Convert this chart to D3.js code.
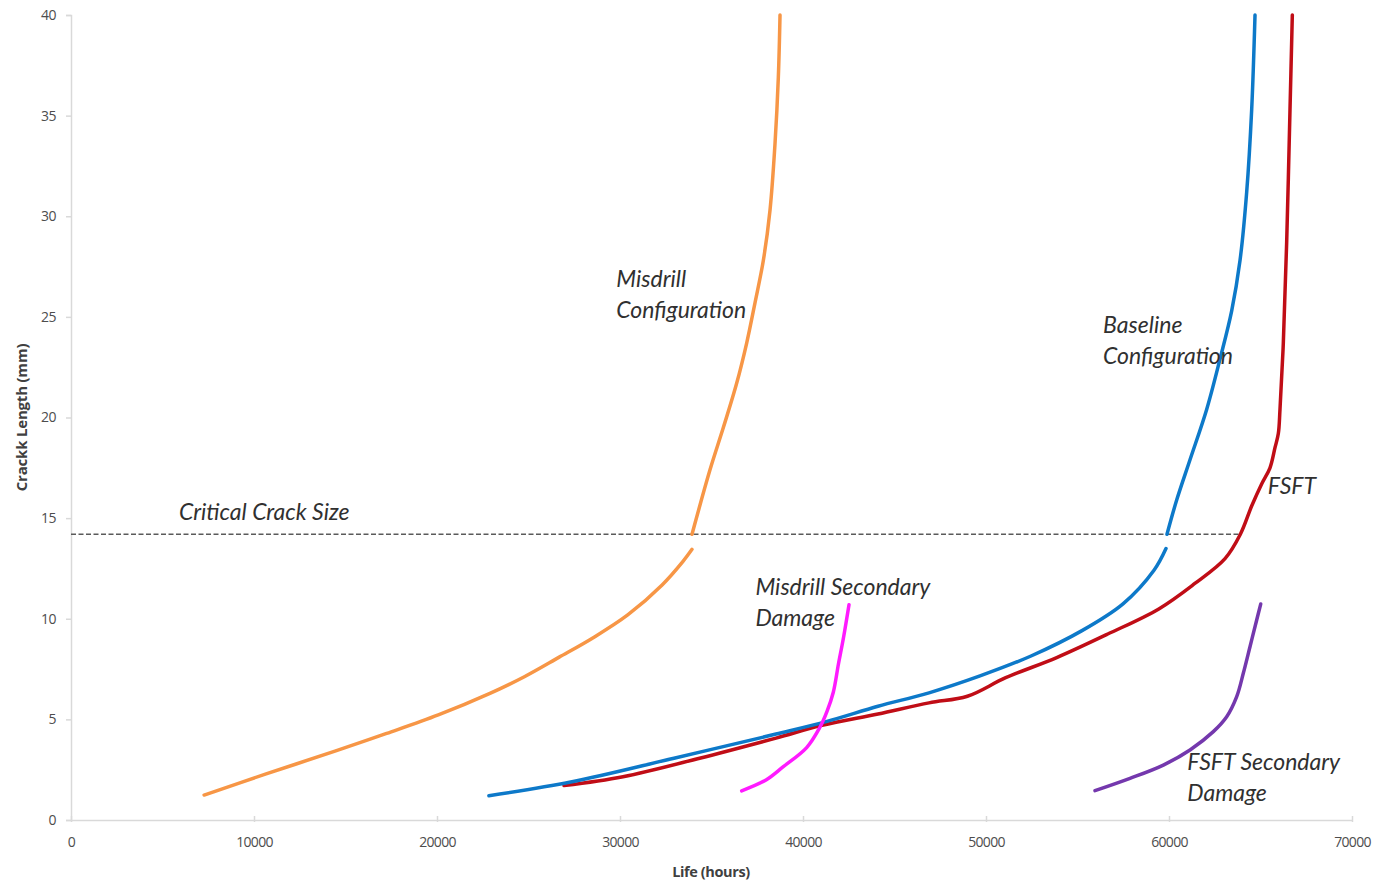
<!DOCTYPE html>
<html>
<head>
<meta charset="utf-8">
<script src="https://cdn.jsdelivr.net/npm/d3@7"></script>
<style>
  html, body { margin: 0; padding: 0; background: #ffffff; }
  svg { display: block; }
  .tick text { font-family: "Open Sans", "Lato", sans-serif; fill: #4d4d4d; }
</style>
</head>
<body>
<svg id="chart" width="1379" height="883"></svg>
<script>
// Crack growth curves: life (hours) vs crack length (mm)

// Misdrill configuration, growth up to critical size
const misdrillLife  = [7274, 10662, 14426, 17247, 20071, 22892, 24775, 26656, 28536, 30421, 32301, 33432, 33935];
const misdrillCrack = [1.24, 2.29, 3.42, 4.30, 5.22, 6.29, 7.12, 8.08, 9.06, 10.19, 11.68, 12.84, 13.45];
// Misdrill configuration, beyond critical size
const misdrillPostLife  = [33935, 34918, 35647, 36375, 36922, 37377, 37832, 38197, 38470, 38652, 38744];
const misdrillPostCrack = [14.2, 17.4, 19.5, 21.7, 23.7, 25.7, 27.8, 30.3, 33.6, 36.9, 40];

// Baseline configuration
const baselineLife  = [22836, 27377, 32951, 38526, 41312, 44099, 46886, 49673, 52460, 55246, 57487, 59180, 59836];
const baselineCrack = [1.21, 1.90, 3.07, 4.27, 4.90, 5.65, 6.32, 7.16, 8.15, 9.41, 10.74, 12.41, 13.49];
const baselinePostLife  = [59890, 60420, 61148, 62058, 62786, 63425, 63880, 64245, 64518, 64700];
const baselinePostCrack = [14.2, 15.9, 17.9, 20.4, 22.9, 25.3, 27.8, 31.2, 35.3, 40];

// FSFT
const fsftLife  = [26940, 30164, 34351, 38526, 41038, 44099, 46886, 48984, 51077, 53864, 56655, 59443, 61393, 63062, 63900, 64517, 65063, 65519, 65792, 65974, 66065, 66247, 66430, 66612, 66739];
const fsftCrack = [1.71, 2.15, 3.07, 4.07, 4.70, 5.27, 5.82, 6.15, 7.07, 8.07, 9.24, 10.49, 11.74, 12.99, 14.2, 15.6, 16.7, 17.5, 18.5, 19.2, 20.4, 23.7, 28.7, 35.3, 40];

// Misdrill secondary damage
const misdrillSecLife  = [36650, 37979, 38924, 40200, 40902, 41312, 41656, 41935, 42214, 42514];
const misdrillSecCrack = [1.45, 1.99, 2.65, 3.60, 4.57, 5.40, 6.35, 7.74, 9.07, 10.70];

// FSFT secondary damage
const fsftSecLife  = [55956, 57869, 59690, 61148, 62422, 63152, 63699, 64060, 64426, 64792, 65011];
const fsftSecCrack = [1.46, 2.07, 2.73, 3.48, 4.39, 5.13, 6.13, 7.29, 8.61, 9.94, 10.73];

// Critical crack size reference line
const criticalSize = 14.2;
const criticalLifeRange = [0, 63900];

const xTicks = [0, 10000, 20000, 30000, 40000, 50000, 60000, 70000];
const yTicks = [0, 5, 10, 15, 20, 25, 30, 35, 40];

const annotations = [
  { lines: ["Misdrill", "Configuration"], life: 29800, crack: 26.5 },
  { lines: ["Baseline", "Configuration"], life: 56400, crack: 24.2 },
  { lines: ["FSFT"], life: 65400, crack: 16.2 },
  { lines: ["Critical Crack Size"], life: 5900, crack: 14.9 },
  { lines: ["Misdrill Secondary", "Damage"], life: 37400, crack: 11.2 },
  { lines: ["FSFT Secondary", "Damage"], life: 61000, crack: 2.5 }
];

const svg = d3.select("#chart");
const margin = { left: 71, right: 27, top: 15, bottom: 63 };
const W = 1379, H = 883;

const x = d3.scaleLinear().domain([0, 70000]).range([margin.left, W - margin.right]);
const y = d3.scaleLinear().domain([0, 40]).range([H - margin.bottom, margin.top]);

// Axes
const axisColor = "#d9d9d9";
const yAxis = svg.append("g")
  .attr("transform", `translate(${margin.left},0)`)
  .call(d3.axisLeft(y).tickValues(yTicks).tickSize(5).tickPadding(10).tickFormat(d3.format("d")));
yAxis.select(".domain").attr("stroke", axisColor).attr("stroke-width", 1.5);
yAxis.selectAll(".tick line").attr("stroke", axisColor).attr("stroke-width", 1.5);
yAxis.selectAll(".tick text").attr("font-size", 14).attr("letter-spacing", -0.5);

const xAxis = svg.append("g")
  .attr("transform", `translate(0,${H - margin.bottom})`)
  .call(d3.axisBottom(x).tickValues(xTicks).tickSizeOuter(0).tickSize(0).tickPadding(17).tickFormat(d3.format("d")));
xAxis.select(".domain").attr("stroke", axisColor).attr("stroke-width", 1.5);
xAxis.selectAll(".tick line").attr("y1", -4).attr("y2", 2).attr("stroke", axisColor).attr("stroke-width", 1.5);
xAxis.selectAll(".tick text").attr("font-size", 14).attr("letter-spacing", -0.7);

// Axis titles
svg.append("text")
  .attr("x", 711)
  .attr("y", 877)
  .attr("text-anchor", "middle")
  .attr("font-family", "Open Sans, Lato, sans-serif")
  .attr("font-weight", "bold")
  .attr("font-size", 14.5)
  .attr("letter-spacing", -0.4)
  .attr("fill", "#404040")
  .text("Life (hours)");

svg.append("text")
  .attr("transform", `translate(27,${y(20)}) rotate(-90)`)
  .attr("text-anchor", "middle")
  .attr("font-family", "Open Sans, Lato, sans-serif")
  .attr("font-weight", "bold")
  .attr("font-size", 15)
  .attr("letter-spacing", -0.2)
  .attr("fill", "#404040")
  .text("Crackk Length (mm)");

// Critical crack size line
svg.append("line")
  .attr("x1", x(criticalLifeRange[0])).attr("x2", x(criticalLifeRange[1]))
  .attr("y1", y(criticalSize)).attr("y2", y(criticalSize))
  .attr("stroke", "#5a5a5a").attr("stroke-width", 1.6)
  .attr("stroke-dasharray", "5,2.5");

// Curves
const line = d3.line().x(d => x(d[0])).y(d => y(d[1])).curve(d3.curveCatmullRom.alpha(0.5));
const zip = (a, b) => a.map((v, i) => [v, b[i]]);

const series = [
  { data: zip(misdrillLife, misdrillCrack), color: "#f79646" },
  { data: zip(misdrillPostLife, misdrillPostCrack), color: "#f79646" },
  { data: zip(fsftLife, fsftCrack), color: "#c00d16" },
  { data: zip(baselineLife, baselineCrack), color: "#0d79c9" },
  { data: zip(baselinePostLife, baselinePostCrack), color: "#0d79c9" },
  { data: zip(misdrillSecLife, misdrillSecCrack), color: "#ff1aff" },
  { data: zip(fsftSecLife, fsftSecCrack), color: "#7438ad" }
];

svg.append("g").selectAll("path")
  .data(series)
  .join("path")
  .attr("d", d => line(d.data))
  .attr("fill", "none")
  .attr("stroke", d => d.color)
  .attr("stroke-width", 3.5)
  .attr("stroke-linecap", "round")
  .attr("stroke-linejoin", "round");

// Annotations
const ann = svg.append("g")
  .attr("font-family", "Lato, Open Sans, sans-serif")
  .attr("font-style", "italic")
  .attr("font-size", 23)
  .attr("fill", "#303030");
annotations.forEach(a => {
  const t = ann.append("text").attr("x", x(a.life)).attr("y", y(a.crack));
  a.lines.forEach((s, i) => {
    t.append("tspan").attr("x", x(a.life)).attr("dy", i === 0 ? 0 : 31).text(s);
  });
});
</script>
</body>
</html>
